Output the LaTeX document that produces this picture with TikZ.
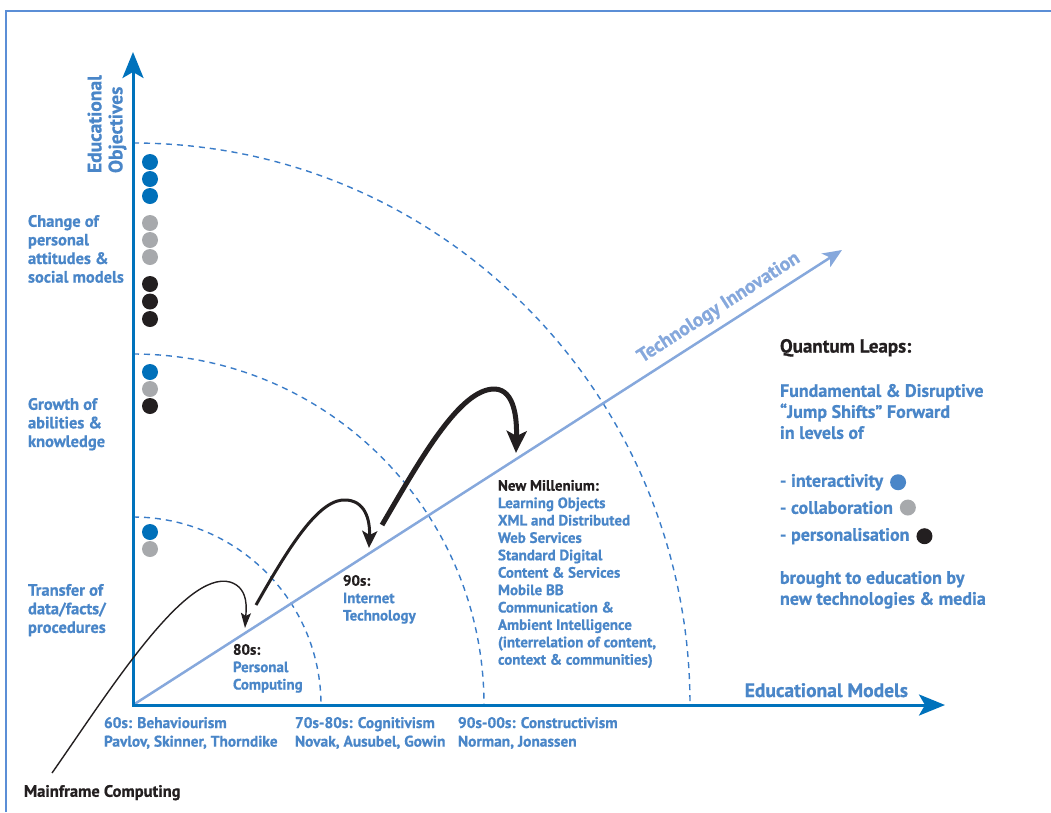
\documentclass[tikz,border=0pt]{standalone}
\usepackage{fontspec}
\setmainfont{PT Sans}[BoldFeatures={FakeBold=0.8}]
\usepackage{tikz}
\usetikzlibrary{arrows.meta,positioning}
\definecolor{axisblue}{HTML}{0072BC}
\definecolor{textblue}{HTML}{4A86C8}
\definecolor{techblue}{HTML}{86A8DC}
\definecolor{ringblue}{HTML}{3A7CC8}
\definecolor{frameblue}{HTML}{5B8ED6}
\definecolor{dotblue}{HTML}{0070BA}
\definecolor{dotgray}{HTML}{A7A9AC}
\definecolor{dotblack}{HTML}{231F20}
\tikzstyle{every node}=[anchor=north west,inner sep=0pt,outer sep=0pt]
\tikzstyle{frame}=[draw=frameblue,line width=2pt]
\tikzstyle{axisline}=[draw=axisblue,line width=3pt,
  {Stealth[length=26pt,width=21pt,inset=6pt]}-{Stealth[length=26pt,width=21pt,inset=6pt]}]
\tikzstyle{techline}=[draw=techblue,line width=2.5pt,-{Stealth[length=19pt,width=16pt,inset=5pt]}]
\tikzstyle{ring}=[draw=ringblue,line width=1.4pt,dash pattern=on 6pt off 5pt]
\tikzstyle{dot}=[circle,minimum size=16pt,anchor=center]
\tikzstyle{objtext}=[text=textblue,font=\bfseries\fontsize{16.5}{18.6}\selectfont,align=left]
\tikzstyle{modtext}=[text=textblue,font=\bfseries\fontsize{15.4}{18.6}\selectfont,align=left]
\tikzstyle{eratext}=[text=textblue,font=\bfseries\fontsize{15}{17.4}\selectfont,align=left]
\tikzstyle{legtext}=[text=textblue,font=\bfseries\fontsize{18}{21}\selectfont,align=left]
\tikzstyle{axistext}=[font=\bfseries\fontsize{19.5}{21}\selectfont,align=left]
\tikzstyle{leapthin}=[draw=dotblack,line width=1.4pt,-{Stealth[length=15pt,width=10pt,inset=3pt]}]
\tikzstyle{leapmid}=[draw=dotblack,line width=3pt,-{Stealth[length=17pt,width=15pt,inset=4pt]}]
\tikzstyle{leapthick}=[draw=dotblack,line width=5pt,-{Stealth[length=22pt,width=20pt,inset=5pt]}]
\begin{document}
\begin{tikzpicture}[x=1pt,y=-1pt]
  \useasboundingbox (0,0) rectangle (1051,812);
  \draw[frame] (6,812) -- (6,10.5) -- (1051,10.5);

  \coordinate (O) at (133,705);
  \coordinate (ytip) at (133,52);
  \coordinate (xtip) at (945,705);
  \coordinate (ttip) at (842,250);

  % level rings
  \draw[ring] (O) ++(0,-188) arc[start angle=-90,end angle=0,radius=188];
  \draw[ring] (O) ++(0,-351) arc[start angle=-90,end angle=0,radius=351];
  \draw[ring] (O) ++(0,-562) arc[start angle=-90,end angle=0,x radius=557,y radius=562];

  \draw[techline] (O) -- (ttip);
  \draw[axisline] (ytip) -- (O) -- (xtip);

  \node[axistext,text=textblue,rotate=90,anchor=west] (obj) at (107,173) {Educational\\Objectives};
  \node[axistext,text=textblue,anchor=base east] (models) at (908,697) {Educational Models};
  \node[axistext,text=techblue,rotate=32.7,anchor=center] (tech) at (719,308) {Technology Innovation};

  % dots on the objectives axis
  \node[dot,fill=dotblue] (a1) at (150,162) {};
  \node[dot,fill=dotblue] (a2) at (150,179) {};
  \node[dot,fill=dotblue] (a3) at (150,196) {};
  \node[dot,fill=dotgray] (a4) at (150,223) {};
  \node[dot,fill=dotgray] (a5) at (150,240) {};
  \node[dot,fill=dotgray] (a6) at (150,257) {};
  \node[dot,fill=dotblack] (a7) at (150,284) {};
  \node[dot,fill=dotblack] (a8) at (150,301.5) {};
  \node[dot,fill=dotblack] (a9) at (150,319) {};
  \node[dot,fill=dotblue] (b1) at (150,372) {};
  \node[dot,fill=dotgray] (b2) at (150,389) {};
  \node[dot,fill=dotblack] (b3) at (150,406) {};
  \node[dot,fill=dotblue] (c1) at (150,532) {};
  \node[dot,fill=dotgray] (c2) at (150,549) {};

  \node[objtext] (change) at (28,215) {Change of\\personal\\attitudes \&\\social models};
  \node[objtext] (growth) at (28,398) {Growth of\\abilities \&\\knowledge};
  \node[objtext] (transfer) at (28,584) {Transfer of\\data/facts/\\procedures};

  \node[modtext] (behav) at (104,717) {60s: Behaviourism\\Pavlov, Skinner, Thorndike};
  \node[modtext] (cogn) at (295,717) {70s-80s: Cognitivism\\Novak, Ausubel, Gowin};
  \node[modtext] (constr) at (458,717) {90s-00s: Constructivism\\Norman, Jonassen};
  \node[objtext,text=dotblack] (mainframe) at (24,785) {Mainframe Computing};

  \node[eratext] (pc) at (233,644) {\textcolor{dotblack}{80s:}\\Personal\\Computing};
  \node[eratext] (inet) at (343,575) {\textcolor{dotblack}{90s:}\\Internet\\Technology};
  \node[eratext] (mill) at (498,480) {\textcolor{dotblack}{New Millenium:}\\Learning Objects\\
    XML and Distributed\\Web Services\\Standard Digital\\Content \& Services\\Mobile BB\\
    Communication \&\\Ambient Intelligence\\(interrelation of content,\\context \& communities)};

  % quantum leaps
  \coordinate (s0) at (52,773);
  \coordinate (e0) at (245,628);
  \coordinate (s1) at (256,605);
  \coordinate (e1) at (369,548);
  \coordinate (s2) at (382,525);
  \coordinate (e2) at (516,453);
  \draw[leapthin] (s0) .. controls (110,690) and (185,570) .. (230,582)
    .. controls (250,588) and (246,612) .. (e0);
  \draw[leapmid] (s1) .. controls (290,545) and (320,497) .. (347,500)
    .. controls (368,502) and (370,525) .. (e1);
  \draw[leapthick] (s2) .. controls (420,460) and (460,388) .. (495,389)
    .. controls (515,390) and (517,420) .. (e2);

  % legend
  \node[legtext,text=dotblack,font=\bfseries\fontsize{19}{21}\selectfont] (qleap) at (780,339) {Quantum Leaps:};
  \node[legtext] (fund) at (780,384) {Fundamental \& Disruptive\\“Jump Shifts” Forward\\in levels of};
  \node[legtext] (lint) at (780,474) {- interactivity};
  \node[legtext] (lcol) at (780,501) {- collaboration};
  \node[legtext] (lper) at (780,528) {- personalisation};
  \node[dot,fill=textblue,right=7pt of lint] (lintdot) {};
  \node[dot,fill=dotgray,right=7pt of lcol] (lcoldot) {};
  \node[dot,fill=dotblack,right=7pt of lper] (lperdot) {};
  \node[legtext] (brought) at (780,571) {brought to education by\\new technologies \& media};
\end{tikzpicture}
\end{document}
